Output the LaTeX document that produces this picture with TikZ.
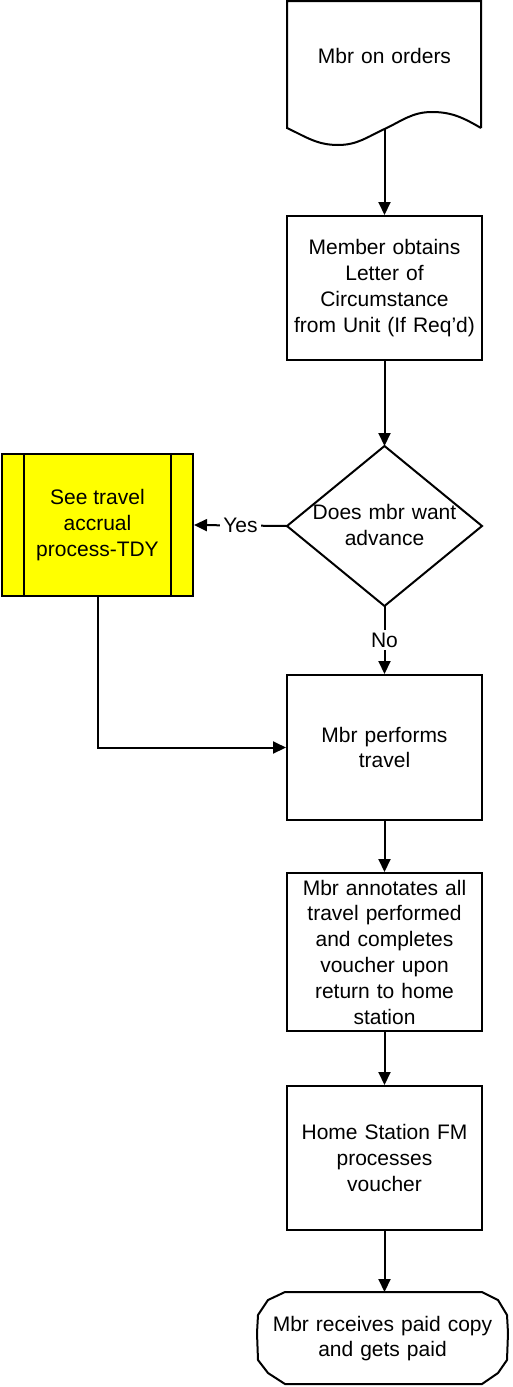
\documentclass[tikz,border=0pt]{standalone}
\usepackage{fontspec}
\setmainfont{Liberation Sans}
\usetikzlibrary{arrows.meta}
\definecolor{boxyellow}{RGB}{255,255,0}
\tikzset{
  lw/.style={line width=2pt},
  procbox/.style={lw, draw, minimum width=195pt, inner sep=0pt, align=center, text width=192pt},
  txt/.style={inner sep=0pt, align=center, text width=192pt},
  arr/.style={lw, -{Triangle[length=13pt,width=12pt]}},
  lbl/.style={fill=white, inner sep=3pt}
}
\begin{document}
\begin{tikzpicture}[x=1pt,y=-1pt, font=\fontsize{21}{25.8}\selectfont, line join=miter]
\useasboundingbox (0,0) rectangle (513,1387);
% document shape
\draw[lw] (481,128) -- (481,1) -- (287,1) -- (287,128)
  to[out=-25,in=180] (338,145) to[out=0,in=205] (384.5,129)
  to[out=25,in=180] (432,112) to[out=0,in=150] (481,128);
\node[txt] (doc) at (384.5,56) {Mbr on orders};
\coordinate (docb) at (384.5,129);
% box 2
\node[procbox, minimum height=144pt] (b2) at (384.5,288) {Member obtains\\Letter of\\Circumstance\\from Unit (If Req'd)};
% diamond
\coordinate (diaT) at (384.5,446);
\coordinate (diaR) at (482,526);
\coordinate (diaB) at (384.5,606);
\coordinate (diaL) at (287,526);
\draw[lw] (diaT) -- (diaR) -- (diaB) -- (diaL) -- cycle;
\node[txt] (dia) at (384.5,525) {Does mbr want\\advance};
% yellow box
\node[lw, draw, fill=boxyellow, minimum width=191pt, minimum height=142pt, inner sep=0pt, align=center] (yel) at (97.5,525) {See travel\\accrual\\process-TDY};
\draw[lw] ([xshift=23pt]yel.north west) -- ([xshift=23pt]yel.south west);
\draw[lw] ([xshift=-23pt]yel.north east) -- ([xshift=-23pt]yel.south east);
% box 3
\node[procbox, minimum height=145pt] (b3) at (384.5,747.5) {Mbr performs\\travel};
% box 4
\node[procbox, minimum height=158pt] (b4) at (384.5,952) {Mbr annotates all\\travel performed\\and completes\\voucher upon\\return to home\\station};
% box 5
\node[procbox, minimum height=144pt] (b5) at (384.5,1158) {Home Station FM\\processes\\voucher};
% terminal
\draw[lw] (285,1292) -- (482,1292) -- (498,1300) -- (507,1315) -- (508,1333) -- (507,1360) -- (498,1373) -- (482,1384) -- (285,1384) -- (268,1373) -- (258,1360) -- (257,1333) -- (258,1315) -- (268,1300) -- cycle;
\node[txt, text width=250pt] (term) at (382.5,1338.5) {Mbr receives paid copy\\and gets paid};
\coordinate (termT) at (384.5,1292);
% connectors
\draw[arr] (docb) -- (b2.north);
\draw[arr] (b2.south) -- (diaT);
\draw[arr] (diaL) -- node[lbl] {Yes} (yel.east);
\draw[arr] (diaB) -- node[lbl] {No} (b3.north);
\draw[arr] (yel.south) |- (b3.west);
\draw[arr] (b3.south) -- (b4.north);
\draw[arr] (b4.south) -- (b5.north);
\draw[arr] (b5.south) -- (termT);
\end{tikzpicture}
\end{document}
